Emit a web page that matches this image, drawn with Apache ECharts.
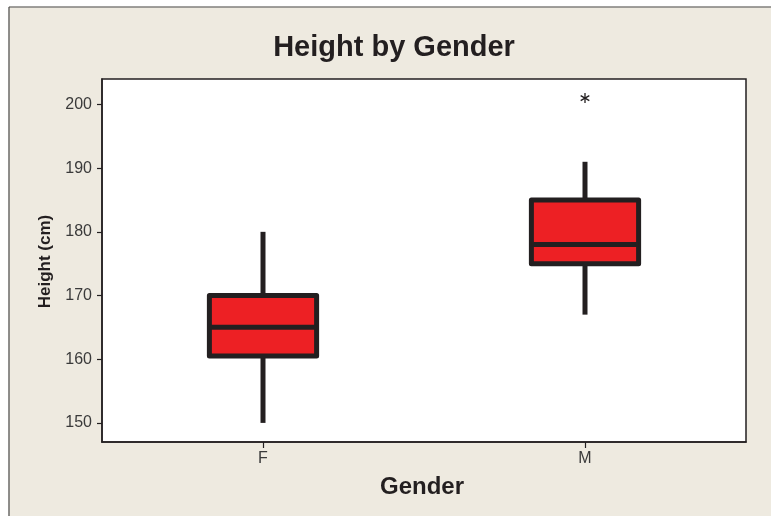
<!DOCTYPE html>
<html>
<head>
<meta charset="utf-8">
<script src="https://cdn.jsdelivr.net/npm/echarts@6/dist/echarts.min.js"></script>
<style>html,body{margin:0;padding:0;background:#fff;}#c{width:771px;height:516px;}</style>
</head>
<body>
<div id="c"></div>
<script>
const categories = ['F', 'M'];
const minVals = [150, 167];
const q1Vals = [160.5, 175];
const medianVals = [165, 178];
const q3Vals = [170, 185];
const maxVals = [180, 191];
const outlierCats = [1];
const outlierVals = [201];
const yTicks = [150, 160, 170, 180, 190, 200];

const INK = '#231f20';
const RED = '#ed2024';
const BEIGE = '#eeeae0';
const FONT = '"Liberation Sans", Arial, sans-serif';

const boxData = categories.map((c, i) => [i, minVals[i], q1Vals[i], medianVals[i], q3Vals[i], maxVals[i]]);
const outlierData = outlierCats.map((c, i) => [c, outlierVals[i]]);

const chart = echarts.init(document.getElementById('c'), null, {renderer: 'canvas'});
chart.setOption({
  backgroundColor: BEIGE,
  animation: false,
  graphic: [
    {type: 'rect', z: 0, shape: {x: 0, y: 0, width: 771, height: 6.5}, style: {fill: '#fff'}},
    {type: 'rect', z: 0, shape: {x: 0, y: 0, width: 8.5, height: 516}, style: {fill: '#fff'}},
    {type: 'line', z: 1, shape: {x1: 9, y1: 7, x2: 771, y2: 7}, style: {stroke: '#4a4a4a', lineWidth: 1.2}},
    {type: 'line', z: 1, shape: {x1: 9, y1: 7, x2: 9, y2: 516}, style: {stroke: '#4a4a4a', lineWidth: 1.2}},
    {type: 'text', z: 5, x: 394, y: 48, style: {text: 'Height by Gender', fill: INK, font: 'bold 29px ' + FONT, align: 'center', verticalAlign: 'middle'}},
    {type: 'text', z: 5, x: 422, y: 487, style: {text: 'Gender', fill: INK, font: 'bold 24px ' + FONT, align: 'center', verticalAlign: 'middle'}},
    {type: 'text', z: 5, x: 45, y: 261.5, rotation: Math.PI / 2, style: {text: 'Height (cm)', fill: INK, font: 'bold 17px ' + FONT, align: 'center', verticalAlign: 'middle'}}
  ],
  grid: {
    left: 102, top: 79, right: 25, bottom: 74,
    show: true, backgroundColor: '#fff', borderColor: INK, borderWidth: 1.5
  },
  xAxis: {
    type: 'category',
    data: categories,
    boundaryGap: true,
    axisLine: {show: true, lineStyle: {color: INK, width: 1.5}},
    axisTick: {show: true, alignWithLabel: true, length: 6, lineStyle: {color: INK, width: 1.2}},
    axisLabel: {color: '#3a3a3a', fontSize: 16, fontFamily: FONT, margin: 9},
    splitLine: {show: false}
  },
  yAxis: {
    type: 'value',
    min: 147,
    max: 204,
    axisLine: {show: true, lineStyle: {color: INK, width: 1.5}},
    axisTick: {show: true, length: 5, customValues: yTicks, lineStyle: {color: INK, width: 1.2}},
    axisLabel: {color: '#3a3a3a', fontSize: 16, fontFamily: FONT, margin: 10, customValues: yTicks},
    splitLine: {show: false}
  },
  series: [
    {
      type: 'custom',
      data: boxData,
      encode: {x: 0, y: [1, 2, 3, 4, 5]},
      renderItem: function (params, api) {
        const x = api.value(0);
        const pMin = api.coord([x, api.value(1)]);
        const pQ1 = api.coord([x, api.value(2)]);
        const pMed = api.coord([x, api.value(3)]);
        const pQ3 = api.coord([x, api.value(4)]);
        const pMax = api.coord([x, api.value(5)]);
        const bw = api.size([1, 0])[0] * 0.333;
        const cx = pMed[0];
        const ls = {stroke: INK, lineWidth: 5, lineCap: 'butt'};
        return {
          type: 'group',
          children: [
            {type: 'line', shape: {x1: cx, y1: pMax[1], x2: cx, y2: pQ3[1]}, style: ls},
            {type: 'line', shape: {x1: cx, y1: pQ1[1], x2: cx, y2: pMin[1]}, style: ls},
            {type: 'rect', shape: {x: cx - bw / 2, y: pQ3[1], width: bw, height: pQ1[1] - pQ3[1]}, style: {fill: RED, stroke: INK, lineWidth: 5, lineJoin: 'round'}},
            {type: 'line', shape: {x1: cx - bw / 2, y1: pMed[1], x2: cx + bw / 2, y2: pMed[1]}, style: ls}
          ]
        };
      }
    },
    {
      type: 'custom',
      data: outlierData,
      encode: {x: 0, y: 1},
      renderItem: function (params, api) {
        const p = api.coord([api.value(0), api.value(1)]);
        const r = 5;
        const s = {stroke: INK, lineWidth: 1.3};
        const children = [];
        for (let k = 0; k < 3; k++) {
          const a = Math.PI / 2 + k * Math.PI / 3;
          children.push({type: 'line', shape: {x1: p[0] - r * Math.cos(a), y1: p[1] - r * Math.sin(a), x2: p[0] + r * Math.cos(a), y2: p[1] + r * Math.sin(a)}, style: s});
        }
        return {type: 'group', children: children};
      }
    }
  ]
});
</script>
</body>
</html>
